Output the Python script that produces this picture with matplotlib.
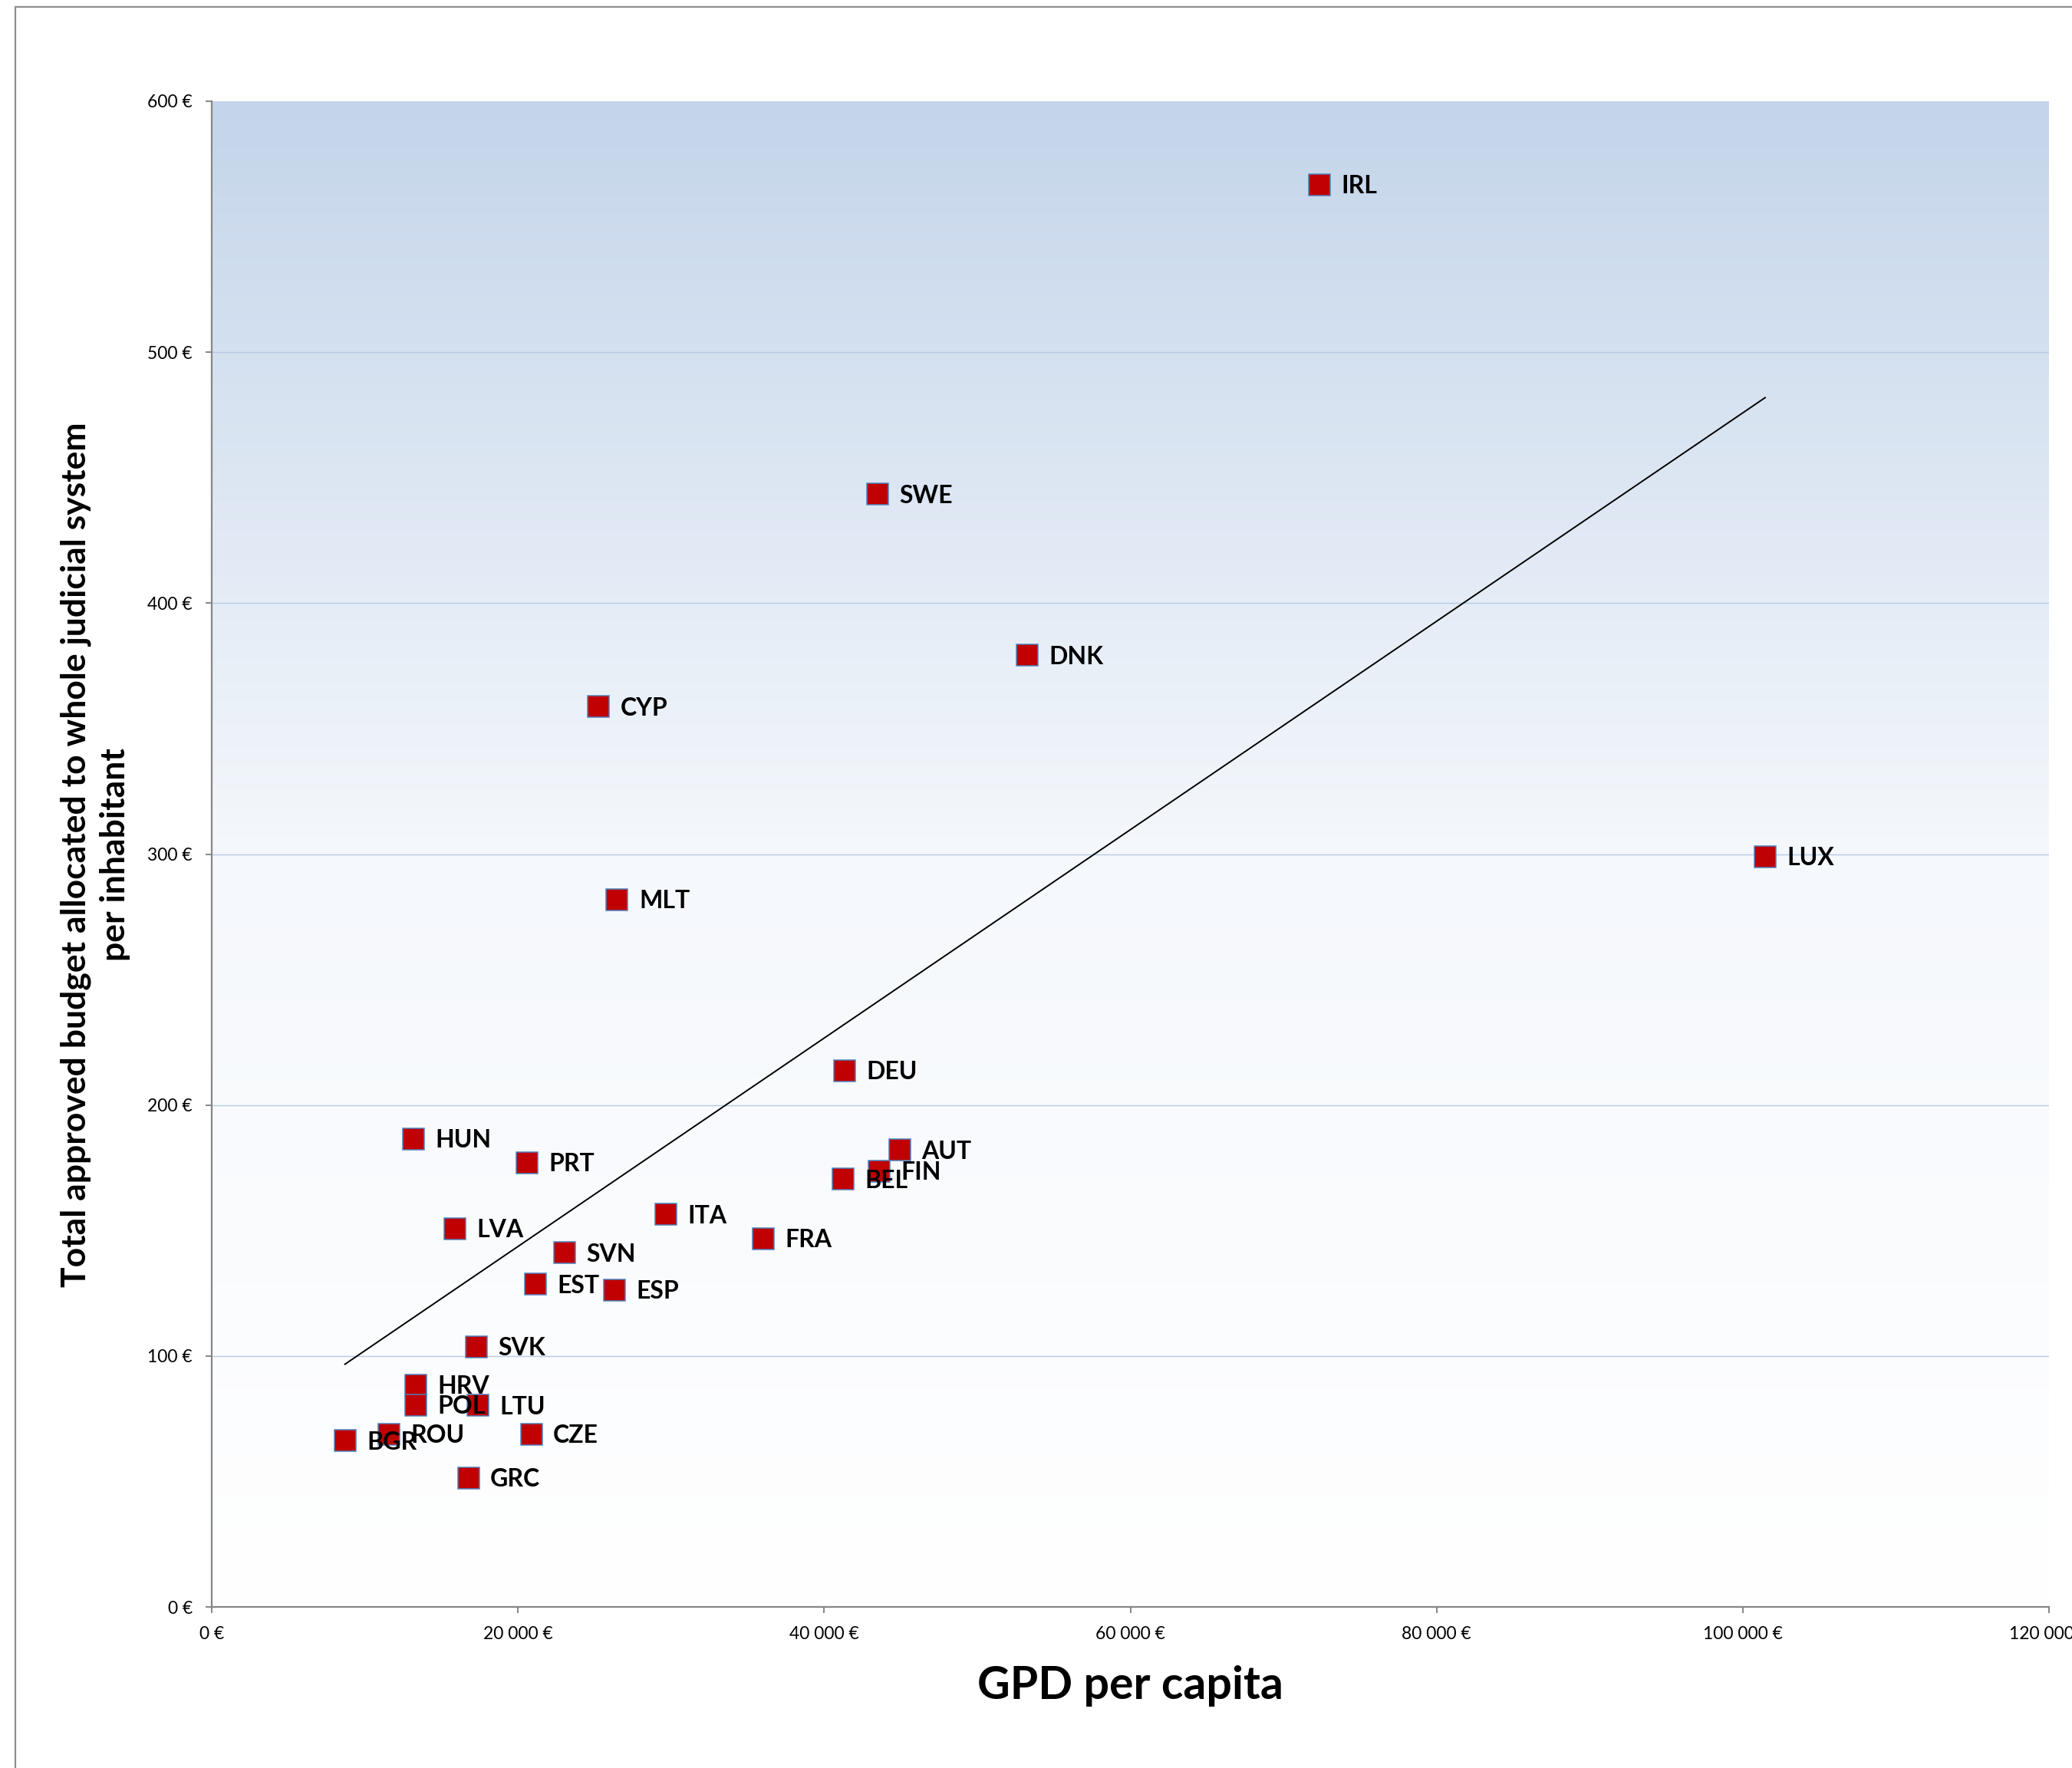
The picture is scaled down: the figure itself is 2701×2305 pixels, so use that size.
import numpy as np
import matplotlib
matplotlib.use("Agg")
import matplotlib.pyplot as plt
from matplotlib.patches import Rectangle
from matplotlib.colors import LinearSegmentedColormap

# Country codes, GDP per capita (EUR) and judicial budget per inhabitant (EUR)
countries = ["IRL", "SWE", "DNK", "CYP", "LUX", "MLT", "DEU", "HUN", "AUT",
             "PRT", "FIN", "BEL", "ITA", "LVA", "FRA", "SVN", "EST", "ESP",
             "SVK", "HRV", "POL", "LTU", "CZE", "ROU", "BGR", "GRC"]
gdp = [72350, 43480, 53240, 25270, 101460, 26480, 41340, 13190, 44920,
       20610, 43590, 41240, 29650, 15860, 36010, 23030, 21130, 26310,
       17290, 13310, 13310, 17370, 20880, 11560, 8700, 16770]
budget = [566.8, 443.4, 379.2, 358.7, 299.0, 281.8, 213.7, 186.5, 182.1,
          177.0, 173.7, 170.5, 156.4, 150.7, 146.7, 141.1, 128.6, 126.3,
          103.6, 88.4, 80.5, 80.3, 68.8, 68.8, 66.2, 51.4]

x_ticks = [0, 20000, 40000, 60000, 80000, 100000, 120000]
x_tick_labels = ["0 €", "20 000 €", "40 000 €", "60 000 €", "80 000 €",
                 "100 000 €", "120 000 €"]
y_ticks = [0, 100, 200, 300, 400, 500, 600]
y_tick_labels = ["0 €", "100 €", "200 €", "300 €", "400 €", "500 €", "600 €"]

plt.rcParams["font.family"] = ["Lato", "DejaVu Sans"]

W, H, DPI = 2701, 2305, 100
fig = plt.figure(figsize=(W / DPI, H / DPI), dpi=DPI)
fig.patch.set_facecolor("white")

# chart frame (only left and top edges fall inside the canvas)
fig.patches.append(Rectangle((20 / W, -0.5), 1.5, 0.5 + 1 - 9 / H,
                             transform=fig.transFigure, fill=False,
                             edgecolor="#8E8E8E", linewidth=1.6, zorder=0))

ax = fig.add_axes([276 / W, 1 - 2095 / H, (2671 - 276) / W, (2095 - 132) / H])

# plot-area gradient: light steel blue at top fading to white
cmap = LinearSegmentedColormap.from_list("bg", ["#FFFFFF", "#F5F8FC", "#C4D5EA"])
grad = np.linspace(0, 1, 512).reshape(-1, 1)
ax.imshow(grad, extent=[0, 1, 0, 1], transform=ax.transAxes, aspect="auto",
          cmap=cmap, origin="lower", zorder=0)

ax.set_xlim(0, 120000)
ax.set_ylim(0, 600)

for v in y_ticks[1:-1]:
    ax.axhline(v, color="#B7CBE3", linewidth=1.0, zorder=1)

# linear trend line over the data range
coef = np.polyfit(gdp, budget, 1)
xs = np.array([min(gdp), max(gdp)])
ax.plot(xs, np.polyval(coef, xs), color="black", linewidth=1.4, zorder=2)

ax.plot(gdp, budget, linestyle="none", marker="s", markersize=19.5,
        markerfacecolor="#C00000", markeredgecolor="#4F81BD",
        markeredgewidth=1.1, zorder=3)

for name, gx, by in zip(countries, gdp, budget):
    ax.annotate(name, (gx, by), xytext=(20.5, -8.2), textcoords="offset points",
                ha="left", va="baseline", fontsize=23, fontweight="bold",
                color="black", zorder=4)

for side in ("top", "right"):
    ax.spines[side].set_visible(False)
for side in ("left", "bottom"):
    ax.spines[side].set_color("#868686")
    ax.spines[side].set_linewidth(1.6)

ax.set_xticks(x_ticks)
ax.set_xticklabels(x_tick_labels)
ax.set_yticks(y_ticks)
ax.set_yticklabels(y_tick_labels)
ax.tick_params(axis="both", direction="out", length=6, width=1.4,
               color="#868686", labelsize=16.5, labelcolor="black")
ax.tick_params(axis="x", pad=12)
ax.tick_params(axis="y", pad=12)
for lbl in ax.get_xticklabels():
    lbl.set_clip_on(False)

fig.text(1473 / W, 1 - 2215 / H, "GPD per capita", ha="center", va="baseline",
         fontsize=42.5, fontweight="bold")
fig.text(124 / W, 1 - 1114 / H,
         "Total approved budget allocated to whole judicial system\nper inhabitant",
         rotation=90, ha="center", va="center", multialignment="center",
         fontsize=32, fontweight="bold", linespacing=1.33)

fig.savefig("out.png", dpi=DPI)
